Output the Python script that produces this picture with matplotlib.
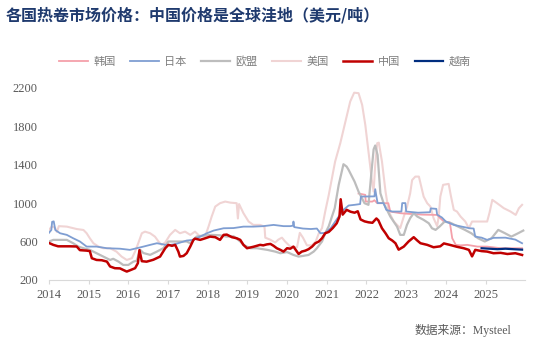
import matplotlib.pyplot as plt

plt.rcParams['font.family'] = ['Liberation Serif', 'Noto Sans CJK SC']

# 中国
cn_t = [2014.00, 2014.11, 2014.23, 2014.53, 2014.70, 2014.78, 2014.95, 2015.03, 2015.08, 2015.20,
        2015.33, 2015.46, 2015.54, 2015.66, 2015.79, 2015.87, 2015.96, 2016.04, 2016.17, 2016.24,
        2016.28, 2016.34, 2016.46, 2016.63, 2016.80, 2016.93, 2017.01, 2017.10, 2017.18, 2017.26,
        2017.30, 2017.39, 2017.47, 2017.56, 2017.64, 2017.68, 2017.81, 2017.94, 2018.06, 2018.19,
        2018.31, 2018.40, 2018.48, 2018.61, 2018.73, 2018.82, 2018.90, 2018.99, 2019.15, 2019.32,
        2019.40, 2019.49, 2019.58, 2019.66, 2019.74, 2019.83, 2019.91, 2020.00, 2020.08, 2020.16,
        2020.29, 2020.37, 2020.46, 2020.54, 2020.63, 2020.71, 2020.80, 2020.88, 2020.96, 2021.05,
        2021.15, 2021.25, 2021.32, 2021.35, 2021.40, 2021.50, 2021.60, 2021.70, 2021.78, 2021.85,
        2021.95, 2022.05, 2022.15, 2022.25, 2022.30, 2022.39, 2022.48, 2022.56, 2022.65, 2022.73,
        2022.81, 2022.94, 2023.06, 2023.19, 2023.28, 2023.36, 2023.53, 2023.69, 2023.86, 2023.95,
        2024.10, 2024.28, 2024.45, 2024.58, 2024.66, 2024.74, 2024.90, 2025.04, 2025.20, 2025.38,
        2025.55, 2025.75, 2025.92]
cn_v = [585, 565, 550, 550, 548, 510, 505, 500, 426, 408,
        405, 391, 340, 322, 320, 304, 287, 300, 322, 374,
        510, 395, 390, 410, 443, 530, 565, 555, 565, 495,
        443, 450, 478, 547, 617, 630, 617, 634, 651, 645,
        617, 669, 672, 645, 634, 617, 565, 530, 545, 565,
        560, 570, 575, 555, 530, 513, 495, 530, 525, 547,
        470, 495, 505, 520, 547, 582, 600, 634, 686, 700,
        740, 790, 860, 1040, 880, 930, 910, 900, 915, 830,
        810, 800, 795, 840, 820, 738, 686, 634, 610, 582,
        515, 547, 600, 645, 610, 582, 565, 540, 550, 580,
        565, 545, 530, 513, 445, 513, 500, 495, 478, 482,
        470, 478, 460]

# 日本
jp_t = [2014.00, 2014.06, 2014.08, 2014.12, 2014.16, 2014.28, 2014.45, 2014.61, 2014.78, 2014.95,
        2015.20, 2015.46, 2015.79, 2016.04, 2016.21, 2016.38, 2016.55, 2016.72, 2016.88, 2017.00,
        2017.20, 2017.47, 2017.64, 2017.81, 2017.98, 2018.15, 2018.40, 2018.65, 2018.90, 2019.15,
        2019.40, 2019.66, 2019.91, 2020.08, 2020.15, 2020.16, 2020.18, 2020.40, 2020.60, 2020.75,
        2020.84, 2020.96, 2021.10, 2021.20, 2021.30, 2021.42, 2021.55, 2021.70, 2021.84, 2021.86,
        2022.20, 2022.22, 2022.25, 2022.28, 2022.43, 2022.50, 2022.65, 2022.88, 2022.90, 2022.98,
        2023.00, 2023.30, 2023.60, 2023.62, 2023.76, 2023.78, 2023.90, 2024.00, 2024.20, 2024.40,
        2024.60, 2024.70, 2024.74, 2024.90, 2025.04, 2025.20, 2025.50, 2025.75, 2025.92]
jp_v = [690, 720, 805, 810, 720, 686, 669, 634, 600, 547,
        547, 530, 525, 513, 530, 547, 565, 582, 570, 560,
        575, 610, 617, 651, 686, 714, 738, 740, 755, 755,
        760, 773, 760, 760, 765, 808, 750, 735, 730, 735,
        686, 690, 740, 800, 860, 930, 975, 982, 990, 1068,
        1070, 1145, 1070, 1000, 1000, 929, 912, 912, 1000, 1000,
        912, 900, 905, 945, 940, 880, 850, 808, 773, 755,
        738, 735, 651, 640, 617, 638, 640, 620, 582]

# 欧盟
eu_t = [2014.00, 2014.11, 2014.28, 2014.45, 2014.61, 2014.74, 2014.87, 2015.03, 2015.20, 2015.37,
        2015.54, 2015.62, 2015.75, 2015.87, 2016.00, 2016.13, 2016.21, 2016.30, 2016.38, 2016.55,
        2016.72, 2016.88, 2017.01, 2017.22, 2017.47, 2017.56, 2017.64, 2017.72, 2017.85, 2018.10,
        2018.30, 2018.48, 2018.65, 2018.82, 2018.90, 2019.07, 2019.24, 2019.50, 2019.70, 2019.83,
        2020.00, 2020.16, 2020.29, 2020.40, 2020.54, 2020.67, 2020.75, 2020.88, 2020.96, 2021.05,
        2021.20, 2021.30, 2021.42, 2021.50, 2021.55, 2021.70, 2021.80, 2021.95, 2022.05, 2022.12,
        2022.18, 2022.22, 2022.28, 2022.35, 2022.43, 2022.60, 2022.77, 2022.85, 2022.94, 2023.02,
        2023.10, 2023.19, 2023.28, 2023.44, 2023.57, 2023.65, 2023.74, 2023.84, 2023.97, 2024.14,
        2024.31, 2024.48, 2024.64, 2024.81, 2024.98, 2025.15, 2025.32, 2025.49, 2025.65, 2025.82,
        2025.95]
eu_v = [600, 617, 617, 617, 582, 547, 530, 513, 478, 443,
        408, 420, 391, 356, 356, 391, 400, 513, 480, 461,
        495, 530, 600, 600, 600, 582, 620, 651, 660, 669,
        665, 651, 655, 600, 565, 530, 530, 513, 495, 478,
        490, 460, 443, 450, 460, 495, 530, 600, 686, 760,
        947, 1190, 1405, 1380, 1346, 1224, 1120, 999, 982, 1300,
        1560, 1600, 1500, 1103, 1000, 860, 755, 669, 669, 773,
        843, 895, 860, 825, 790, 738, 721, 755, 808, 790,
        755, 721, 686, 634, 600, 634, 721, 686, 651, 686,
        714]

# 美国
us_t = [2014.00, 2014.07, 2014.15, 2014.20, 2014.25, 2014.45, 2014.70, 2014.87, 2014.95, 2015.03,
        2015.12, 2015.25, 2015.37, 2015.54, 2015.70, 2015.83, 2015.96, 2016.09, 2016.17, 2016.25,
        2016.34, 2016.42, 2016.55, 2016.67, 2016.76, 2016.84, 2016.93, 2017.05, 2017.18, 2017.30,
        2017.43, 2017.56, 2017.68, 2017.81, 2017.94, 2018.02, 2018.10, 2018.19, 2018.31, 2018.44,
        2018.57, 2018.73, 2018.76, 2018.79, 2018.90, 2019.03, 2019.15, 2019.32, 2019.43, 2019.45,
        2019.57, 2019.70, 2019.78, 2019.87, 2019.95, 2020.08, 2020.25, 2020.32, 2020.40, 2020.50,
        2020.62, 2020.72, 2020.80, 2020.88, 2020.96, 2021.05, 2021.13, 2021.21, 2021.34, 2021.47,
        2021.59, 2021.69, 2021.80, 2021.89, 2021.97, 2022.05, 2022.14, 2022.18, 2022.22, 2022.27,
        2022.31, 2022.39, 2022.48, 2022.56, 2022.69, 2022.77, 2022.85, 2022.94, 2023.02, 2023.10,
        2023.15, 2023.23, 2023.32, 2023.36, 2023.44, 2023.53, 2023.61, 2023.69, 2023.78, 2023.82,
        2023.86, 2023.93, 2024.07, 2024.13, 2024.20, 2024.28, 2024.37, 2024.49, 2024.58, 2024.66,
        2024.87, 2025.04, 2025.10, 2025.17, 2025.29, 2025.46, 2025.63, 2025.76, 2025.84, 2025.92]
us_v = [721, 755, 745, 700, 760, 755, 730, 720, 686, 634,
        582, 547, 530, 530, 495, 443, 408, 426, 495, 582,
        686, 703, 686, 651, 600, 565, 590, 669, 721, 686,
        703, 669, 703, 651, 660, 755, 860, 964, 999, 1016,
        1005, 999, 840, 990, 895, 808, 773, 773, 755, 640,
        620, 590, 620, 640, 600, 547, 540, 690, 640, 560,
        560, 600, 686, 740, 912, 1086, 1260, 1433, 1624, 1850,
        2058, 2150, 2145, 2024, 1815, 1537, 1224, 1120, 1400, 1624,
        1630, 1433, 1120, 912, 808, 773, 740, 860, 960, 1100,
        1240, 1276, 1276, 1207, 1068, 999, 964, 843, 760, 860,
        1068, 1190, 1200, 1068, 929, 912, 860, 808, 738, 808,
        808, 808, 900, 1034, 999, 947, 912, 877, 947, 982]

# 韩国
kr_t = [2021.80, 2021.97, 2021.98, 2022.15, 2022.20, 2022.27, 2022.55, 2022.60, 2022.85, 2023.00,
        2023.40, 2023.78, 2023.86, 2023.95, 2024.10, 2024.16, 2024.25, 2024.37, 2024.54, 2024.80,
        2025.04, 2025.38, 2025.92]
kr_v = [1100, 1086, 1016, 1016, 1030, 999, 999, 912, 895, 890,
        880, 877, 843, 808, 800, 634, 565, 560, 565, 547,
        547, 530, 530]

# 越南
vn_t = [2024.90, 2025.10, 2025.30, 2025.50, 2025.70, 2025.92]
vn_v = [530, 525, 520, 525, 520, 515]

years = list(range(2014, 2026))

fig = plt.figure(figsize=(5.5, 3.46), dpi=100)
ax = fig.add_axes([0.089, 0.191, 0.866, 0.555])

ax.plot(us_t, us_v, color='#F0D4D4', lw=1.5, label='美国', zorder=1)
ax.plot(kr_t, kr_v, color='#F4A0AA', lw=1.3, label='韩国', zorder=2)
ax.plot(jp_t, jp_v, color='#7F9ED2', lw=1.3, label='日本', zorder=3)
ax.plot(eu_t, eu_v, color='#BDBDBD', lw=1.6, label='欧盟', zorder=2)
ax.plot(cn_t, cn_v, color='#C00000', lw=1.8, label='中国', zorder=5)
ax.plot(vn_t, vn_v, color='#002D7F', lw=1.6, label='越南', zorder=4)

ax.set_xlim(2014, 2026)
ax.set_ylim(200, 2200)
ax.set_xticks(years)
ax.set_xticklabels([str(y) for y in years])
ax.set_yticks([200, 600, 1000, 1400, 1800, 2200])
for s in ['top', 'right', 'left']:
    ax.spines[s].set_visible(False)
ax.spines['bottom'].set_color('#D9D9D9')
ax.tick_params(axis='x', colors='#D9D9D9', length=3, labelcolor='#595959', labelsize=9)
ax.tick_params(axis='y', length=0, labelcolor='#595959', labelsize=9, pad=8)

handles, labels = ax.get_legend_handles_labels()
order = ['韩国', '日本', '欧盟', '美国', '中国', '越南']
hmap = dict(zip(labels, handles))
leg = fig.legend([hmap[k] for k in order], order, loc='center', bbox_to_anchor=(0.482, 0.822),
                 ncol=6, frameon=False, handlelength=2.6, columnspacing=1.3, handletextpad=0.5,
                 prop={'family': ['Noto Sans CJK SC'], 'size': 8})
for t in leg.get_texts():
    t.set_color('#7F7F7F')

fig.text(0.01, 0.955, '各国热卷市场价格：中国价格是全球洼地（美元/吨）', fontsize=11.5,
         fontweight='bold', color='#1F3A6E', family=['Noto Sans CJK SC'], va='center')
fig.text(0.93, 0.045, '数据来源：Mysteel', fontsize=8.5, color='#595959', ha='right', va='center')

fig.savefig('out.png', dpi=100)
